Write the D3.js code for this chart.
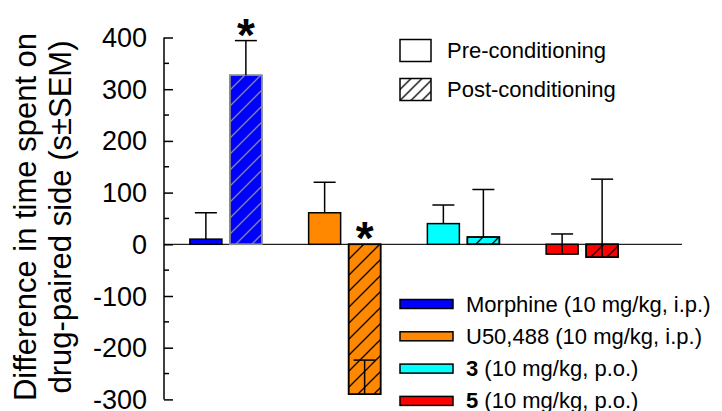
<!DOCTYPE html>
<html>
<head>
<meta charset="utf-8">
<script src="https://cdn.jsdelivr.net/npm/d3@7"></script>
<style>
  html, body { margin: 0; padding: 0; background: #fff; }
  svg { display: block; font-family: Arial, "Liberation Sans", Helvetica, sans-serif; }
</style>
</head>
<body>
<svg id="chart" width="722" height="411"></svg>
<script>
// Treatment groups and their colours
const groups = ["Morphine", "U50,488", "3", "5"];
const groupColors = ["#0000ff", "#ff8800", "#00ffff", "#ff0000"];
const legendBold = ["", "", "3", "5"];
const legendRest = ["Morphine (10 mg/kg, i.p.)", "U50,488 (10 mg/kg, i.p.)", " (10 mg/kg, p.o.)", " (10 mg/kg, p.o.)"];

// Difference in time spent on drug-paired side (s) and SEM
const preValues = [10, 61, 40, -19];
const preSem = [51, 59, 36, 39];
const postValues = [327, -290, 14, -25];
const postSem = [67, 66, 92, 151];

// Significance markers (post-conditioning)
const postSignificant = [true, true, false, false];

const yTicks = [400, 300, 200, 100, 0, -100, -200, -300];
const phases = ["pre", "post"];
const phaseLabels = ["Pre-conditioning", "Post-conditioning"];

const svg = d3.select("#chart");

const y = d3.scaleLinear().domain([-300, 400]).range([399.4, 37.5]);
const xGroup = d3.scaleBand().domain(groups).range([166.5, 641.5]).padding(0);
const xPhase = d3.scaleBand().domain(phases).range([0, 72]).paddingInner(0.2).paddingOuter(0);
const phaseX = (g, p) => xGroup(g) + (xGroup.bandwidth() - 72) / 2 + xPhase(p);

// Hatch patterns
const defs = svg.append("defs");
function hatch(id, size, color) {
  const p = defs.append("pattern")
    .attr("id", id)
    .attr("patternUnits", "userSpaceOnUse")
    .attr("width", size).attr("height", size);
  p.append("path")
    .attr("d", `M0,${size} L${size},0 M${-size / 2},${size / 2} L${size / 2},${-size / 2} M${size / 2},${size * 1.5} L${size * 1.5},${size / 2}`)
    .attr("stroke", color).attr("stroke-width", 1.3).attr("fill", "none");
}
hatch("hatchBlack", 16, "#000");
hatch("hatchGrey", 16, "#8a8a8a");
hatch("hatchLegend", 11, "#000");

// Rows of bar data
const rows = [];
groups.forEach((g, i) => {
  rows.push({ g, i, phase: "pre", value: preValues[i], sem: preSem[i], sig: false });
  rows.push({ g, i, phase: "post", value: postValues[i], sem: postSem[i], sig: postSignificant[i] });
});

// Zero reference line
svg.append("line")
  .attr("x1", 164).attr("x2", 682)
  .attr("y1", y(0)).attr("y2", y(0))
  .attr("stroke", "#222").attr("stroke-width", 1.2);

// Bars
const bar = svg.append("g").selectAll("g").data(rows).join("g");
bar.append("rect")
  .attr("x", d => phaseX(d.g, d.phase))
  .attr("width", xPhase.bandwidth())
  .attr("y", d => y(Math.max(0, d.value)))
  .attr("height", d => Math.abs(y(d.value) - y(0)))
  .attr("fill", d => groupColors[d.i])
  .attr("stroke", d => (d.phase === "post" && d.i === 0) ? "#8a8a8a" : "#000")
  .attr("stroke-width", 1.5);
bar.filter(d => d.phase === "post").append("rect")
  .attr("x", d => phaseX(d.g, d.phase))
  .attr("width", xPhase.bandwidth())
  .attr("y", d => y(Math.max(0, d.value)))
  .attr("height", d => Math.abs(y(d.value) - y(0)))
  .attr("fill", d => d.i === 0 ? "url(#hatchGrey)" : "url(#hatchBlack)")
  .attr("stroke", d => d.i === 0 ? "#8a8a8a" : "#000")
  .attr("stroke-width", 1.5);

// Error bars (value to value + SEM)
const capHalf = 11;
bar.append("line")
  .attr("x1", d => phaseX(d.g, d.phase) + xPhase.bandwidth() / 2)
  .attr("x2", d => phaseX(d.g, d.phase) + xPhase.bandwidth() / 2)
  .attr("y1", d => y(d.value))
  .attr("y2", d => y(d.value + d.sem))
  .attr("stroke", "#000").attr("stroke-width", 1.5);
bar.append("line")
  .attr("x1", d => phaseX(d.g, d.phase) + xPhase.bandwidth() / 2 - capHalf)
  .attr("x2", d => phaseX(d.g, d.phase) + xPhase.bandwidth() / 2 + capHalf)
  .attr("y1", d => y(d.value + d.sem))
  .attr("y2", d => y(d.value + d.sem))
  .attr("stroke", "#000").attr("stroke-width", 1.5);

// Asterisks
bar.filter(d => d.sig).append("text")
  .attr("x", d => phaseX(d.g, d.phase) + xPhase.bandwidth() / 2)
  .attr("y", d => (d.value > 0 ? y(d.value + d.sem) - 16 : y(0) - 16) + 26)
  .attr("text-anchor", "middle")
  .attr("font-weight", "bold")
  .attr("font-size", 46)
  .text("*");

// Y axis with minor ticks pointing inward
const axisX = 164;
const yAxis = d3.axisRight(y).tickValues(yTicks).tickSize(9).tickFormat("");
const axisG = svg.append("g").attr("transform", `translate(${axisX},0)`).call(yAxis);
axisG.select(".domain").attr("d", `M0,${y(400)}V${y(-300)}`).attr("stroke", "#000").attr("stroke-width", 1.5);
axisG.selectAll(".tick line").attr("stroke", "#000").attr("stroke-width", 1.5);
const minor = d3.range(-250, 400, 100);
axisG.selectAll(".minor").data(minor).join("line")
  .attr("class", "minor")
  .attr("x1", 0).attr("x2", 5)
  .attr("y1", d => y(d)).attr("y2", d => y(d))
  .attr("stroke", "#000").attr("stroke-width", 1.5);

// Tick labels
svg.append("g").selectAll("text").data(yTicks).join("text")
  .attr("x", 147)
  .attr("y", d => y(d) + 9.5)
  .attr("text-anchor", "end")
  .attr("font-size", 27)
  .attr("fill", "#000")
  .text(d => d);

// Y axis title
const title = svg.append("text")
  .attr("transform", "translate(0,217) rotate(-90)")
  .attr("text-anchor", "middle")
  .attr("font-size", 31)
  .attr("fill", "#000");
title.append("tspan").attr("x", 0).attr("y", 36).text("Difference in time spent on");
title.append("tspan").attr("x", 0).attr("y", 71).text("drug-paired side (s\u00b1SEM)");

// Phase legend
const phaseLeg = svg.append("g").selectAll("g").data(phaseLabels).join("g")
  .attr("transform", (d, i) => `translate(400,${39.5 + i * 39})`);
phaseLeg.append("rect")
  .attr("width", 31).attr("height", 22)
  .attr("fill", (d, i) => i === 1 ? "url(#hatchLegend)" : "#fff")
  .attr("stroke", "#000").attr("stroke-width", 1.5);
phaseLeg.append("text")
  .attr("x", 47).attr("y", 18.5)
  .attr("font-size", 22)
  .attr("fill", "#000")
  .text(d => d);

// Treatment legend
const drugLeg = svg.append("g").selectAll("g").data(groups).join("g")
  .attr("transform", (d, i) => `translate(400,${304 + i * 32.3})`);
drugLeg.append("rect")
  .attr("y", -4.5).attr("width", 53).attr("height", 9)
  .attr("fill", (d, i) => groupColors[i])
  .attr("stroke", "#000").attr("stroke-width", 1.5);
const lt = drugLeg.append("text")
  .attr("x", 66).attr("y", 7.5)
  .attr("font-size", 22)
  .attr("fill", "#000");
lt.append("tspan").attr("font-weight", "bold").text((d, i) => legendBold[i]);
lt.append("tspan").text((d, i) => legendRest[i]);
</script>
</body>
</html>
